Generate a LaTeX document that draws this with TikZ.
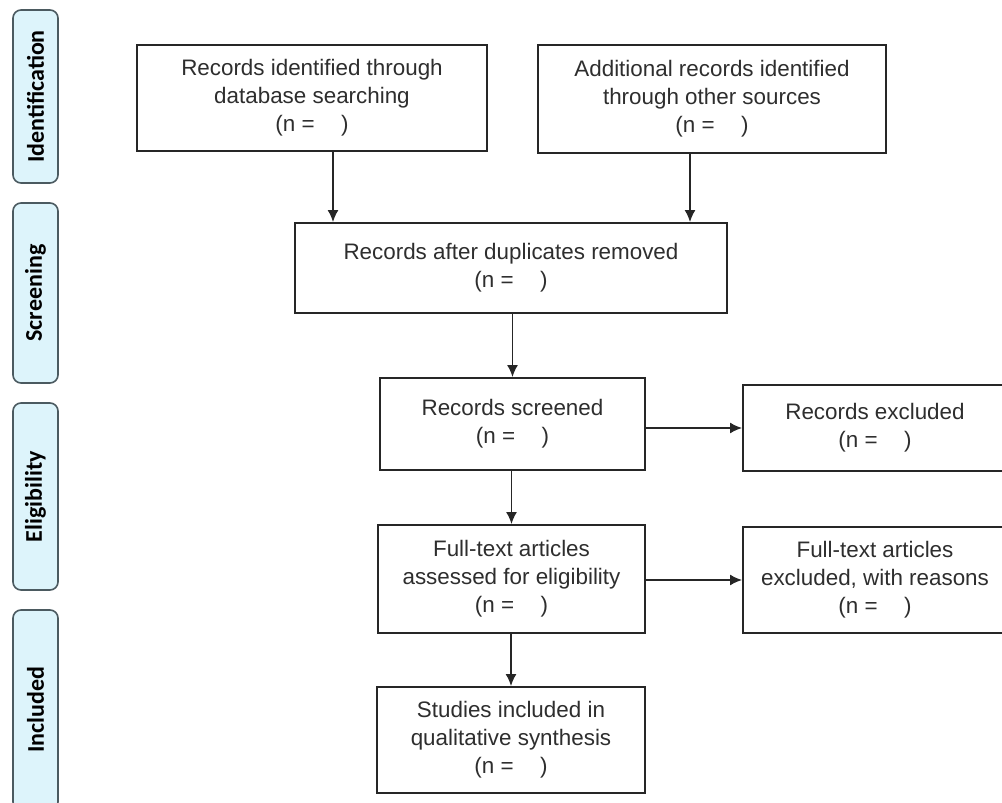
\documentclass[tikz,border=0pt]{standalone}
\usepackage{fontspec}
\setmainfont{Liberation Sans}
\newfontfamily\stagefont{Carlito}
\usetikzlibrary{arrows.meta}

\definecolor{stagefill}{HTML}{DDF4FB}
\definecolor{stageline}{HTML}{4B5A60}
\definecolor{boxtext}{HTML}{2E2E2E}

\tikzset{
  box/.style={draw=black!85, line width=0.9pt, fill=white, align=center,
    text=boxtext, inner sep=0pt, font=\fontsize{11.2}{14}\selectfont},
  stage/.style={draw=stageline, line width=0.8pt, fill=stagefill,
    rounded corners=4pt, rotate=90, minimum height=22.5pt, inner sep=0pt,
    font=\stagefont\bfseries\fontsize{12}{14}\selectfont},
  arr/.style={-{Latex[length=6pt,width=5.5pt]}, line width=0.9pt, black!85}
}

\newcommand{\nempty}{(n = \hspace{0.9em})}

\begin{document}
\begin{tikzpicture}[x=0.5pt, y=-0.5pt]
   \useasboundingbox (0,0) rectangle (1002,803);
   \clip (0,0) rectangle (1002,803);

   % stages
   \node[stage, minimum width=86.5pt] (sIdent) at (35.5,96.5) {Identification};
   \node[stage, minimum width=90pt]   (sScreen) at (35.5,293) {Screening};
   \node[stage, minimum width=93.5pt] (sElig) at (35.5,496.5) {Eligibility};
   \node[stage, minimum width=100pt]  (sIncl) at (35.5,710) {Included};

   % boxes
   \node[box, minimum width=175pt, minimum height=53pt] (dbRec) at (312,98)
     {Records identified through\\database searching\\\nempty};
   \node[box, minimum width=174pt, minimum height=54pt] (addRec) at (712,99)
     {Additional records identified\\through other sources\\\nempty};
   \node[box, minimum width=216pt, minimum height=45pt] (dupRem) at (511,268)
     {Records after duplicates removed\\\nempty};
   \node[box, minimum width=132.5pt, minimum height=46pt] (screened) at (512.5,424)
     {Records screened\\\nempty};
   \node[box, minimum width=132pt, minimum height=43pt] (excl) at (875,428)
     {Records excluded\\\nempty};
   \node[box, minimum width=133.5pt, minimum height=54pt] (fullText) at (511.5,579)
     {Full-text articles\\assessed for eligibility\\\nempty};
   \node[box, minimum width=132pt, minimum height=53pt] (ftExcl) at (875,580)
     {Full-text articles\\excluded, with reasons\\\nempty};
   \node[box, minimum width=134pt, minimum height=53pt] (incl) at (511,740)
     {Studies included in\\qualitative synthesis\\\nempty};

   % connectors
   \draw[arr] ([xshift=10.5pt]dbRec.south) coordinate (a1) -- (a1 |- dupRem.north);
   \draw[arr] ([xshift=-11pt]addRec.south) coordinate (a2) -- (a2 |- dupRem.north);
   \draw[arr] (dupRem.south -| screened) -- (screened.north);
   \draw[arr] (screened.east |- excl) -- (excl.west);
   \draw[arr] (screened.south -| fullText) -- (fullText.north);
   \draw[arr] (fullText.east |- ftExcl) -- (ftExcl.west);
   \draw[arr] (fullText.south -| incl) -- (incl.north);
\end{tikzpicture}
\end{document}
